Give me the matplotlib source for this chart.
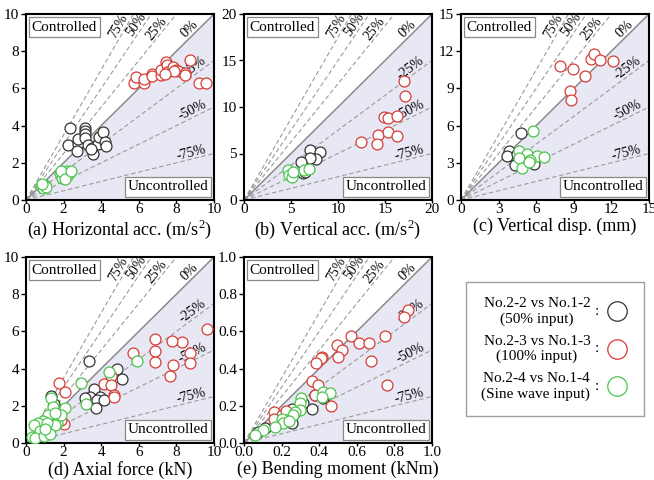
import numpy as np
import matplotlib
matplotlib.use("Agg")
import matplotlib.pyplot as plt
from matplotlib.lines import Line2D

plt.rcParams['font.family'] = ['Liberation Serif', 'DejaVu Serif']
plt.rcParams['mathtext.fontset'] = 'custom'
plt.rcParams['mathtext.rm'] = 'Liberation Serif'

# (x = uncontrolled, y = controlled) response maxima
# --- (a) horizontal acceleration
a_k_x = [2.35, 2.25, 2.75, 2.75, 2.7, 3.15, 3.15, 3.15, 3.15, 3.3, 3.5, 3.55, 3.85, 3.9, 4.1, 4.2, 4.25, 3.45]
a_k_y = [3.85, 2.95, 3.0, 3.3, 2.65, 3.85, 3.7, 3.55, 3.35, 2.95, 2.8, 2.45, 3.0, 3.4, 3.65, 3.1, 2.9, 2.75]
a_r_x = [5.75, 5.85, 6.25, 6.3, 6.7, 6.7, 7.2, 7.2, 7.45, 7.5, 7.5, 7.8, 8.0, 8.1, 8.45, 8.45, 8.7, 9.2, 9.6, 7.85, 7.4]
a_r_y = [6.3, 6.6, 6.3, 6.5, 6.8, 6.65, 6.7, 7.0, 7.4, 7.25, 6.9, 7.15, 7.0, 6.95, 6.85, 6.7, 7.5, 6.3, 6.3, 6.95, 6.75]
a_g_x = [0.8, 0.9, 1.0, 1.05, 0.85, 1.8, 1.9, 2.0, 2.05, 2.2, 2.3, 2.2, 2.35, 1.85, 2.1, 2.4]
a_g_y = [0.75, 0.65, 0.8, 0.7, 0.85, 1.45, 1.2, 1.5, 1.3, 1.55, 1.45, 1.3, 1.5, 1.55, 1.15, 1.55]

# --- (b) vertical acceleration
b_k_x = [7.0, 8.1, 7.7, 7.0, 6.1, 6.3, 6.5]
b_k_y = [5.35, 5.2, 4.45, 4.55, 4.1, 2.85, 3.0]
b_r_x = [17.05, 17.15, 14.9, 15.3, 16.25, 14.3, 15.35, 16.25, 14.2, 12.45]
b_r_y = [12.75, 11.2, 8.95, 8.85, 9.0, 6.95, 7.3, 6.85, 6.05, 6.2]
b_g_x = [4.7, 4.8, 5.15, 6.4, 6.95, 5.25]
b_g_y = [3.2, 2.7, 2.5, 3.2, 3.35, 3.0]

# --- (c) vertical displacement
c_k_x = [4.75, 3.85, 3.65, 4.3, 5.85, 4.5]
c_k_y = [5.4, 3.95, 3.55, 2.85, 2.9, 3.7]
c_r_x = [7.9, 8.9, 9.9, 8.7, 8.75, 10.4, 10.65, 11.1, 12.1]
c_r_y = [10.8, 10.6, 10.0, 8.75, 8.1, 11.4, 11.8, 11.3, 11.2]
c_g_x = [5.75, 4.65, 5.25, 6.05, 6.6, 4.65, 5.5, 4.85, 5.4]
c_g_y = [5.6, 3.95, 3.75, 3.55, 3.5, 3.4, 3.25, 2.6, 3.1]

# --- (d) axial force
d_k_x = [3.35, 4.85, 5.1, 3.6, 3.4, 3.15, 3.95, 3.75, 4.15, 3.7, 1.35, 1.5]
d_k_y = [4.4, 4.0, 3.45, 2.9, 2.5, 2.4, 2.5, 2.3, 2.3, 1.9, 2.55, 2.1]
d_r_x = [9.65, 8.3, 7.75, 6.85, 6.85, 6.85, 5.7, 8.7, 8.7, 7.8, 7.65, 4.5, 4.15, 4.5, 4.7, 4.7,
         1.75, 2.05, 2.0, 1.85, 1.6]
d_r_y = [6.15, 5.45, 5.5, 5.6, 4.95, 4.35, 4.85, 4.85, 4.3, 4.2, 3.6, 3.6, 3.15, 3.1, 2.6, 2.5,
         3.2, 2.75, 1.0, 1.25, 1.7]
d_g_x = [5.9, 4.4, 2.9, 3.2, 1.35, 1.45, 2.1, 1.15, 0.9, 0.65, 1.65, 1.55, 1.85, 1.55, 0.4,
         0.75, 0.3, 0.5, 0.95, 1.1, 1.3, 1.0]
d_g_y = [4.4, 3.8, 3.2, 2.1, 2.4, 1.95, 1.9, 1.5, 1.2, 1.05, 1.05, 0.95, 1.5, 1.6, 0.95,
         0.65, 0.3, 0.25, 0.4, 1.1, 0.5, 0.75]

# --- (e) bending moment
e_k_x = [0.315, 0.36, 0.255, 0.26, 0.42, 0.255, 0.11, 0.075, 0.38]
e_k_y = [0.215, 0.185, 0.185, 0.15, 0.24, 0.105, 0.078, 0.06, 0.26]
e_r_x = [0.87, 0.85, 0.57, 0.61, 0.495, 0.52, 0.5, 0.415, 0.41, 0.385, 0.665, 0.675, 0.75,
         0.76, 0.36, 0.395, 0.38, 0.465, 0.16, 0.2, 0.225, 0.16]
e_r_y = [0.715, 0.675, 0.575, 0.535, 0.525, 0.5, 0.465, 0.465, 0.455, 0.43, 0.54, 0.44, 0.575,
         0.31, 0.335, 0.31, 0.26, 0.2, 0.165, 0.15, 0.17, 0.13]
e_g_x = [0.42, 0.455, 0.415, 0.305, 0.3, 0.3, 0.27, 0.26, 0.225, 0.2, 0.21, 0.165, 0.1, 0.06, 0.24]
e_g_y = [0.275, 0.27, 0.245, 0.24, 0.215, 0.175, 0.165, 0.15, 0.125, 0.13, 0.105, 0.088, 0.068, 0.045, 0.12]

panels = [
    ("(a) Horizontal acc. (m/s$^{\\mathrm{2}}$)", 10, [0, 2, 4, 6, 8, 10], (a_k_x, a_k_y), (a_r_x, a_r_y), (a_g_x, a_g_y)),
    ("(b) Vertical acc. (m/s$^{\\mathrm{2}}$)", 20, [0, 5, 10, 15, 20], (b_k_x, b_k_y), (b_r_x, b_r_y), (b_g_x, b_g_y)),
    ("(c) Vertical disp. (mm)", 15, [0, 3, 6, 9, 12, 15], (c_k_x, c_k_y), (c_r_x, c_r_y), (c_g_x, c_g_y)),
    ("(d) Axial force (kN)", 10, [0, 2, 4, 6, 8, 10], (d_k_x, d_k_y), (d_r_x, d_r_y), (d_g_x, d_g_y)),
    ("(e) Bending moment (kNm)", 1.0, [0.0, 0.2, 0.4, 0.6, 0.8, 1.0], (e_k_x, e_k_y), (e_r_x, e_r_y), (e_g_x, e_g_y)),
]

group_colors = ['#333333', '#d63c36', '#4cc34c']
group_labels = ["No.2-2 vs No.1-2\n(50% input)",
                "No.2-3 vs No.1-3\n(100% input)",
                "No.2-4 vs No.1-4\n(Sine wave input)"]

# reduction ratio lines  y = (1 + r) x
ratios = [0.75, 0.5, 0.25, 0.0, -0.25, -0.5, -0.75]
ratio_text = ['75%', '50%', '25%', '0%', '-25%', '-50%', '-75%']
# label anchor along each line (axes fraction)
anchor_y = {0.75: 0.915, 0.5: 0.925, 0.25: 0.9}
anchor_x = {0.0: 0.895, -0.25: 0.905, -0.5: 0.90, -0.75: 0.885}

W, H = 654, 480
fig = plt.figure(figsize=(W / 100, H / 100), dpi=100)

boxes = [(26, 200), (244, 200), (461, 200), (26, 443), (244, 443)]
aw, ah = 188, 186

for i, ((title, lim, ticks, blk, red, grn), (px, py)) in enumerate(zip(panels, boxes)):
    ax = fig.add_axes([px / W, (H - py) / H, aw / W, ah / H])
    ax.set_xlim(0, lim)
    ax.set_ylim(0, lim)
    ax.fill([0, lim, lim], [0, 0, lim], color='#e8e8f4', zorder=0, lw=0)

    ang_base = ah / aw
    for r, txt in zip(ratios, ratio_text):
        s = 1 + r
        if r == 0:
            ax.plot([0, lim], [0, lim], color='#8a8a8a', lw=1.1, zorder=1)
        else:
            ax.plot([0, lim], [0, s * lim], color='#9a9a9a', lw=0.8, ls=(0, (4, 2.5)), zorder=1)
        if r > 0:
            fy = anchor_y[r]
            fx = fy / s
        else:
            fx = anchor_x[r]
            fy = fx * s
        ang = np.degrees(np.arctan(s * ang_base))
        ax.text(fx, fy, txt, transform=ax.transAxes, rotation=ang, rotation_mode='anchor',
                ha='center', va='bottom', fontsize=10, zorder=2)

    for (gx, gy), c in zip([blk, red, grn], group_colors):
        ax.scatter(gx, gy, s=62, facecolors='white', edgecolors=c, linewidths=0.9, zorder=3)

    ax.text(0.03, 0.965, "Controlled", transform=ax.transAxes, ha='left', va='top', fontsize=11,
            bbox=dict(boxstyle='square,pad=0.2', fc='white', ec='#888888', lw=0.9), zorder=4)
    ax.text(0.97, 0.035, "Uncontrolled", transform=ax.transAxes, ha='right', va='bottom', fontsize=11,
            bbox=dict(boxstyle='square,pad=0.2', fc='white', ec='#888888', lw=0.9), zorder=4)

    ax.set_xticks(ticks)
    ax.set_yticks(ticks)
    if lim == 1.0:
        ax.set_xticklabels([f"{t:.1f}" for t in ticks])
        ax.set_yticklabels([f"{t:.1f}" for t in ticks])
    ax.tick_params(axis='y', direction='out', length=3.5, width=1, labelsize=11, pad=1.5)
    ax.tick_params(axis='x', direction='out', length=2, width=1, labelsize=11, pad=0.5)
    for sp in ax.spines.values():
        sp.set_linewidth(1.5)
    ax.set_xlabel(title, fontsize=13, labelpad=1)

handles = [Line2D([], [], ls='none', marker='o', ms=14, mfc='white', mec=c, mew=0.9) for c in group_colors]
leg = fig.legend(handles, group_labels, loc='center', bbox_to_anchor=(555 / W, 1 - 349 / H),
                 markerfirst=False, fontsize=11, frameon=True, fancybox=False, edgecolor='#888888',
                 handlelength=1.5, handletextpad=1.0, labelspacing=0.6, borderpad=1.0)
leg.get_frame().set_linewidth(1.0)
for t in leg.get_texts():
    t.set_multialignment('center')

fig.canvas.draw()
inv = fig.transFigure.inverted()
for t in leg.get_texts():
    bb = t.get_window_extent()
    x0, y0 = inv.transform((bb.x1 + 7, (bb.y0 + bb.y1) / 2))
    fig.text(x0, y0, ":", ha='center', va='center', fontsize=11, zorder=10)

fig.savefig("out.png", dpi=100)
